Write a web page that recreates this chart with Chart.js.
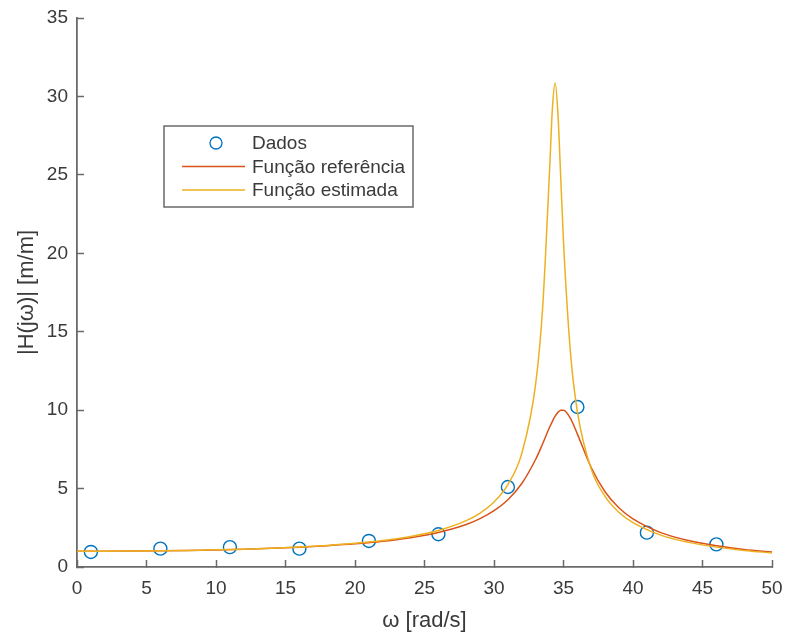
<!DOCTYPE html>
<html>
<head>
<meta charset="utf-8">
<script src="https://cdn.jsdelivr.net/npm/chart.js@4/dist/chart.umd.min.js"></script>
<style>
  html, body { margin: 0; padding: 0; background: #fff; }
  #wrap { width: 785px; height: 634px; }
</style>
</head>
<body>
<div id="wrap"><canvas id="chart" width="785" height="634"></canvas></div>
<script>
// measured points
const dataX = [1, 6, 11, 16, 21, 26, 31, 36, 41, 46];
const dataY = [0.96, 1.17, 1.27, 1.17, 1.66, 2.09, 5.1, 10.2, 2.19, 1.44];

// curves
const curveX = [0, 2, 4, 6, 8, 10, 12, 14, 16, 18, 20, 22, 24, 26, 28, 29, 30, 31, 32, 33,
  33.5, 34, 34.2, 34.4, 34.6, 34.8, 35, 35.5, 36, 37, 38, 39, 40, 42, 44, 46, 48, 50];
const refY = [1.000, 1.003, 1.013, 1.030, 1.055, 1.089, 1.133, 1.190, 1.264, 1.360, 1.480, 1.644, 1.872, 2.201, 2.711,
  3.084, 3.587, 4.292, 5.323, 6.867, 7.856, 8.905, 9.289, 9.615, 9.858, 9.992, 10.000,
  9.480, 8.470, 6.326, 4.780, 3.758, 3.065, 2.193, 1.684, 1.353, 1.122, 0.952];
const estY = [1.000, 1.003, 1.014, 1.031, 1.057, 1.092, 1.139, 1.199, 1.276, 1.377, 1.511, 1.692, 1.948, 2.329, 2.954,
  3.441, 4.147, 5.258, 7.245, 11.69, 16.53, 25.32, 29.21, 30.86, 28.89, 24.84, 20.74,
  13.68, 9.897, 6.223, 4.482, 3.476, 2.825, 2.031, 1.569, 1.267, 1.055, 0.898];

const xTicks = [0, 5, 10, 15, 20, 25, 30, 35, 40, 45, 50];
const yTicks = [0, 5, 10, 15, 20, 25, 30, 35];
const legendLabels = ['Dados', 'Função referência', 'Função estimada'];

const BLUE = '#0072BD', RED = '#D95319', YELLOW = '#EDB120';
const AXIS = '#6a6a6a', TEXT = '#3a3a3a';
const FONT = "'Liberation Sans', Arial, Helvetica, sans-serif";

const pts = (xs, ys) => xs.map((x, i) => ({ x: x, y: ys[i] }));

// MATLAB style legend box
const legendBox = {
  id: 'legendBox',
  afterDatasetsDraw(chart) {
    const ctx = chart.ctx;
    const bx = 164, by = 126, bw = 249, bh = 81;
    ctx.save();
    ctx.fillStyle = '#fff';
    ctx.fillRect(bx, by, bw, bh);
    ctx.strokeStyle = AXIS;
    ctx.lineWidth = 1.5;
    ctx.strokeRect(bx, by, bw, bh);

    const rows = [143, 166.5, 190];
    ctx.strokeStyle = BLUE;
    ctx.lineWidth = 1.3;
    ctx.beginPath();
    ctx.arc(216, rows[0], 6, 0, Math.PI * 2);
    ctx.stroke();
    [RED, YELLOW].forEach((c, i) => {
      ctx.strokeStyle = c;
      ctx.lineWidth = 1.5;
      ctx.beginPath();
      ctx.moveTo(182, rows[i + 1]);
      ctx.lineTo(245, rows[i + 1]);
      ctx.stroke();
    });

    ctx.fillStyle = TEXT;
    ctx.font = '19px ' + FONT;
    ctx.textBaseline = 'middle';
    ctx.textAlign = 'left';
    legendLabels.forEach((t, i) => ctx.fillText(t, 252, rows[i] + 1));
    ctx.restore();
  }
};

const ctx = document.getElementById('chart').getContext('2d');

new Chart(ctx, {
  type: 'line',
  data: {
    datasets: [{
      label: legendLabels[2],
      data: pts(curveX, estY),
      borderColor: YELLOW,
      borderWidth: 1.5,
      pointRadius: 0,
      cubicInterpolationMode: 'monotone',
      order: 1
    }, {
      label: legendLabels[1],
      data: pts(curveX, refY),
      borderColor: RED,
      borderWidth: 1.5,
      pointRadius: 0,
      cubicInterpolationMode: 'monotone',
      order: 2
    }, {
      label: legendLabels[0],
      data: pts(dataX, dataY),
      showLine: false,
      pointStyle: 'circle',
      pointRadius: 6.5,
      pointBorderWidth: 1.4,
      pointBorderColor: BLUE,
      pointBackgroundColor: 'rgba(0,0,0,0)',
      order: 3
    }]
  },
  options: {
    responsive: false,
    animation: false,
    layout: { padding: { top: 18, right: 13, left: 0, bottom: 0 } },
    plugins: { legend: { display: false }, tooltip: { enabled: false } },
    scales: {
      x: {
        type: 'linear',
        min: 0, max: 50,
        afterBuildTicks: s => { s.ticks = xTicks.map(v => ({ value: v })); },
        afterFit: s => { s.height = 67; s.paddingLeft = 0; s.paddingRight = 0; },
        grid: { drawOnChartArea: false, tickLength: -7, tickColor: AXIS, tickWidth: 1.5 },
        border: { color: AXIS, width: 1.8 },
        ticks: { color: TEXT, font: { family: FONT, size: 19 }, padding: 17, maxRotation: 0 },
        title: { display: true, text: 'ω [rad/s]', color: TEXT, font: { family: FONT, size: 22 }, padding: { top: 0, bottom: 0 } }
      },
      y: {
        type: 'linear',
        min: 0, max: 35,
        afterBuildTicks: s => { s.ticks = yTicks.map(v => ({ value: v })); },
        afterFit: s => { s.width = 77; s.paddingTop = 0; s.paddingBottom = 0; },
        grid: { drawOnChartArea: false, tickLength: -7, tickColor: AXIS, tickWidth: 1.5 },
        border: { color: AXIS, width: 1.8 },
        ticks: { color: TEXT, font: { family: FONT, size: 19 }, padding: 16 },
        title: { display: true, text: '|H(jω)| [m/m]', color: TEXT, font: { family: FONT, size: 22 }, padding: { top: 14, bottom: 0 } }
      }
    }
  },
  plugins: [legendBox]
});
</script>
</body>
</html>
